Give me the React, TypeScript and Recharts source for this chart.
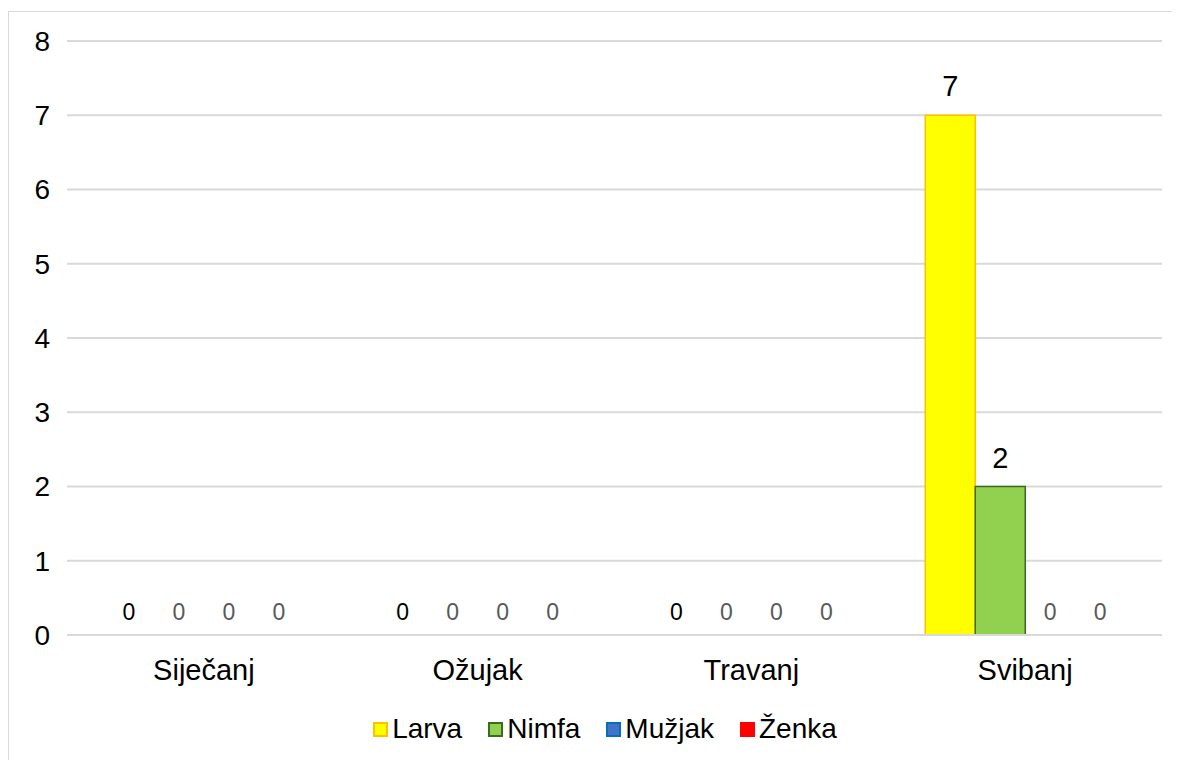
import React from "react";
import {
  BarChart,
  Bar,
  XAxis,
  YAxis,
  CartesianGrid,
  Legend,
  LabelList,
  Rectangle,
} from "recharts";

const months = ["Siječanj", "Ožujak", "Travanj", "Svibanj"];
const larva = [0, 0, 0, 7];
const nimfa = [0, 0, 0, 2];
const muzjak = [0, 0, 0, 0];
const zenka = [0, 0, 0, 0];
const yTicks = [0, 1, 2, 3, 4, 5, 6, 7, 8];

const series = [
  { key: "larva", name: "Larva", fill: "#FFFF00", stroke: "#FFC000", zeroColor: "#000000" },
  { key: "nimfa", name: "Nimfa", fill: "#92D050", stroke: "#3B6B1F", zeroColor: "#595959" },
  { key: "muzjak", name: "Mužjak", fill: "#4472C4", stroke: "#0070C0", zeroColor: "#595959" },
  { key: "zenka", name: "Ženka", fill: "#FF0000", stroke: "#FF0000", zeroColor: "#595959" },
];

const data = months.map((m, i) => ({
  month: m,
  larva: larva[i],
  nimfa: nimfa[i],
  muzjak: muzjak[i],
  zenka: zenka[i],
}));

const FONT = "'Liberation Sans', Arial, sans-serif";

// zero bars get a tiny min size so their labels still render, but draw nothing
const hideZero = (props: any) =>
  Number(props.value) === 0 ? <g /> : <Rectangle {...props} />;

function makeLabel(zeroColor: string) {
  return (props: any) => {
    const { x, y, width, height, value } = props;
    const isZero = Number(value) === 0;
    const top = Math.min(Number(y), Number(y) + Number(height));
    return (
      <text
        x={Number(x) + Number(width) / 2}
        y={top - (isZero ? 15 : 19)}
        textAnchor="middle"
        fontFamily={FONT}
        fontSize={isZero ? 23 : 29}
        fill={isZero ? zeroColor : "#000000"}
      >
        {value}
      </text>
    );
  };
}

function LegendBox() {
  return (
    <div
      style={{
        display: "flex",
        justifyContent: "center",
        alignItems: "center",
        fontFamily: FONT,
        fontSize: 28,
        color: "#000",
        paddingLeft: 46,
      }}
    >
      {series.map((s) => (
        <div key={s.key} style={{ display: "flex", alignItems: "center", marginRight: 26 }}>
          <span
            style={{
              display: "inline-block",
              width: 11,
              height: 11,
              background: s.fill,
              border: `2px solid ${s.stroke}`,
              marginRight: 4,
            }}
          />
          <span>{s.name}</span>
        </div>
      ))}
    </div>
  );
}

export default function App() {
  return (
    <div style={{ marginTop: 3 }}>
      <style>{`body{overflow:hidden}`}</style>
      <div
        style={{
          width: 1180,
          height: 760,
          border: "1px solid #d9d9d9",
          background: "#fff",
        }}
      >
        <BarChart
          width={1172}
          height={749}
          data={data}
          margin={{ top: 29, right: 19, left: 0, bottom: 34 }}
          barCategoryGap={37}
          barGap={0}
        >
          <CartesianGrid vertical={false} stroke="#d9d9d9" strokeWidth={2} />
          <XAxis
            dataKey="month"
            axisLine={{ stroke: "#d9d9d9", strokeWidth: 2 }}
            tickLine={false}
            tickSize={0}
            tickMargin={24}
            height={60}
            tick={{ fontSize: 29, fill: "#000", fontFamily: FONT }}
          />
          <YAxis
            domain={[0, 8]}
            ticks={yTicks}
            axisLine={false}
            tickLine={false}
            tickSize={0}
            tickMargin={17}
            width={58}
            tick={{ fontSize: 28, fill: "#000", fontFamily: FONT }}
          />
          <Legend
            content={() => <LegendBox />}
            wrapperStyle={{ top: 701, left: 0, width: 1172 }}
          />
          {series.map((s) => (
            <Bar
              key={s.key}
              dataKey={s.key}
              name={s.name}
              fill={s.fill}
              stroke={s.stroke}
              strokeWidth={1.5}
              minPointSize={0.01}
              shape={hideZero}
              isAnimationActive={false}
            >
              <LabelList dataKey={s.key} content={makeLabel(s.zeroColor)} />
            </Bar>
          ))}
        </BarChart>
      </div>
    </div>
  );
}
